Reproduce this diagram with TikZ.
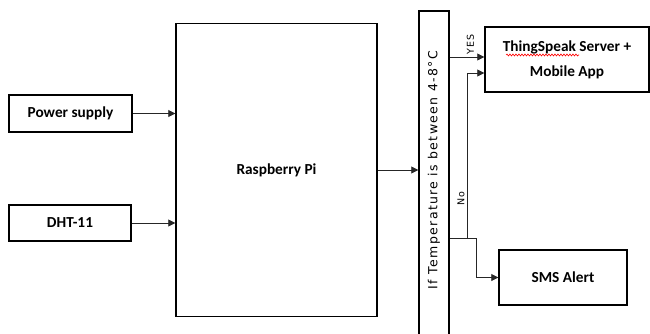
\documentclass[tikz,border=0pt]{standalone}
\usepackage{fontspec}
\setmainfont{Carlito}
\newfontfamily\condfont[LetterSpace=11]{DejaVu Sans}
\usetikzlibrary{arrows.meta,decorations.pathmorphing}
\tikzset{
  blk/.style={draw,line width=1.4pt,align=center,inner sep=0pt,
    font=\fontsize{15.3}{25}\selectfont\bfseries},
  conn/.style={draw=black!85,line width=0.8pt,-{Triangle[length=7pt,width=7pt]}},
  wire/.style={draw=black!85,line width=0.8pt},
  lbl/.style={font=\condfont\fontsize{9.5}{10}\selectfont,rotate=90,inner sep=2pt}
}
\begin{document}
\begin{tikzpicture}[x=1pt,y=-1pt]
\useasboundingbox (0,0) rectangle (650,334);
% blocks
\node[blk,minimum width=123pt,minimum height=37pt] (psu) at (70.5,113.5) {Power supply};
\node[blk,minimum width=122pt,minimum height=36pt] (dht) at (70,223) {DHT-11};
\node[blk,minimum width=201pt,minimum height=293pt] (rpi) at (276.5,170) {Raspberry Pi};
\node[blk,minimum width=30pt,minimum height=330pt] (cond) at (434,176) {};
\node[font=\condfont\fontsize{12.5}{13}\selectfont,rotate=90] (condtxt) at (434,170) {If Temperature is between 4-8°C};
\node[blk,minimum width=164pt,minimum height=65pt] (ts) at (567,59.5) {ThingSpeak Server +\\Mobile App};
\node[blk,minimum width=128pt,minimum height=55pt] (sms) at (563,277.5) {SMS Alert};
\draw[red,line width=0.6pt,decorate,decoration={snake,amplitude=1pt,segment length=3pt}] (506,55) -- (579,55);

% connectors
\draw[conn] (psu.east) -- (psu.east -| rpi.west);
\draw[conn] (dht.east) -- (dht.east -| rpi.west);
\draw[conn] (rpi.east) -- (rpi.east -| cond.west);

\coordinate (yes) at ([yshift=2.5pt]ts.west);
\coordinate (noin) at ([yshift=-13.5pt]ts.west);
\coordinate (split) at (467,238);
\coordinate (drop) at (476,238);
\draw[conn] (yes -| cond.east) -- (yes) node[lbl,pos=0.6,anchor=west] {YES};
\draw[wire] (cond.east |- split) -- (drop);
\draw[conn] (split) |- (noin) node[lbl,pos=0.12,anchor=south] {No};
\draw[conn] (drop) |- (sms.west);
\end{tikzpicture}
\end{document}
